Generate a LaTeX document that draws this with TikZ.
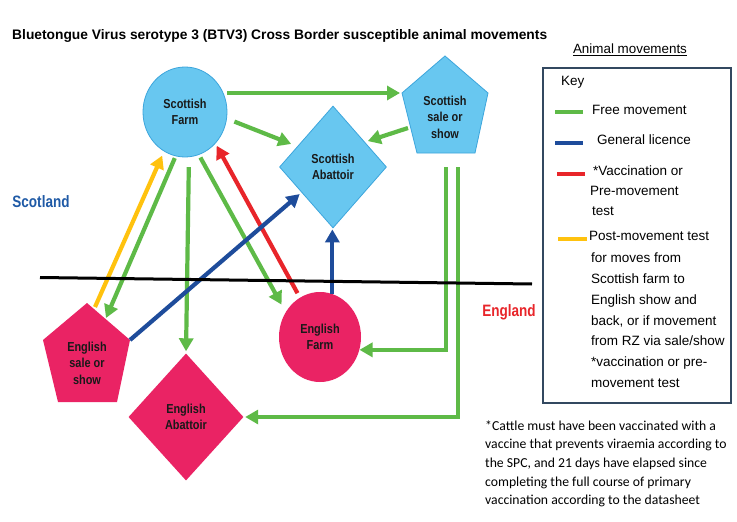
\documentclass[tikz,border=0pt]{standalone}
\usepackage{fontspec}
\setmainfont{Liberation Sans}
\newfontfamily\carlito{Carlito}
\newfontfamily\condsans[FakeStretch=0.84]{Liberation Sans}
\newfontfamily\regsans[FakeStretch=0.82]{Liberation Sans}
\usetikzlibrary{shapes.geometric,arrows.meta}
\definecolor{fgreen}{RGB}{94,186,71}
\definecolor{fblue}{RGB}{30,76,155}
\definecolor{fred}{RGB}{232,37,42}
\definecolor{fyellow}{RGB}{255,194,14}
\definecolor{scotfill}{RGB}{104,199,240}
\definecolor{scotedge}{RGB}{60,165,220}
\definecolor{engfill}{RGB}{234,35,100}
\definecolor{boxc}{RGB}{50,72,96}
\definecolor{scotlabel}{RGB}{31,90,166}
\begin{document}
\begin{tikzpicture}[x=1pt,y=-1pt,
  conn/.style={line width=4.2pt,-{Triangle[length=13pt,width=14pt]}},
  gline/.style={conn,draw=fgreen},
  bline/.style={conn,draw=fblue},
  rline/.style={conn,draw=fred},
  yline/.style={conn,draw=fyellow},
  shapetext/.style={align=center,inner sep=0pt,text=black!90,font=\condsans\bfseries\fontsize{13}{16.5}\selectfont},
  scot/.style={shapetext,fill=scotfill,draw=scotedge,line width=0.8pt},
  eng/.style={shapetext,fill=engfill},
  keytext/.style={anchor=mid west,inner sep=0pt,font=\fontsize{13.5}{16}\selectfont},
  keyline/.style={line width=4pt},
  foot/.style={anchor=mid west,inner sep=0pt,font=\carlito\fontsize{13.7}{16}\selectfont},
  region/.style={inner sep=0pt,font=\regsans\bfseries\fontsize{16.5}{18}\selectfont}]
\useasboundingbox (0,0) rectangle (737,522);
\fill[white] (0,0) rectangle (737,522);

% title
\node[anchor=west,inner sep=0pt,font=\bfseries\fontsize{13.8}{16}\selectfont] (title) at (12,36)
  {Bluetongue Virus serotype 3 (BTV3) Cross Border susceptible animal movements};

% region labels
\node[region,text=scotlabel] (scotland) at (41,202) {Scotland};
\node[region,text=fred] (england) at (509,312) {England};

% Scottish shapes
\node[scot,ellipse,minimum width=84pt,minimum height=90pt] (sf) at (185,112) {Scottish\\Farm};
\node[scot,diamond,minimum width=107pt,minimum height=122pt] (sa) at (333,167) {Scottish\\Abattoir};
\filldraw[fill=scotfill,draw=scotedge,line width=0.8pt] (445,56) -- (488,93) -- (475,153) -- (417,153) -- (402,93) -- cycle;
\node[shapetext] (ss) at (445,117) {Scottish\\sale or\\show};
\coordinate (ssW) at (402,93);
\coordinate (ssL) at (408,128);
\coordinate (ssD1) at (446,167);
\coordinate (ssD2) at (458,167);

% English shapes
\node[eng,ellipse,minimum width=82pt,minimum height=90pt] (ef) at (320,337) {English\\Farm};
\node[eng,diamond,minimum width=115pt,minimum height=127pt] (ea) at (186,417) {English\\Abattoir};
\fill[engfill] (87,303) -- (130,340) -- (117,402) -- (58,402) -- (43,340) -- cycle;
\node[shapetext] (es) at (87,363) {English\\sale or\\show};
\coordinate (esT) at (106,318);
\coordinate (esY) at (95,307);
\coordinate (esE) at (130,340);

% connectors
\draw[gline,shorten >=2pt] (sf.east |- ssW) -- (ssW);
\draw[gline,shorten <=8pt,shorten >=6.5pt] (sf.-9) -- (sa.150);
\draw[gline,shorten >=3pt] (ssL) -- (sa.38);
\draw[gline,shorten <=3pt,shorten >=8.5pt] (sf.-72) -- (ef.144);
\draw[gline,shorten <=10pt,shorten >=2pt] (sf.-85) -- (ea.north);
\draw[gline,shorten <=2pt] (sf.-102) -- (esT);
\draw[yline,shorten >=4.5pt] (esY) -- (sf.-118);
\draw[rline,shorten <=5pt,shorten >=2.5pt] (ef.117) -- (sf.-46);
\draw[bline,shorten >=2.4pt] (esE) -- (sa.-141);
\draw[bline,shorten >=1pt] (ef.74) -- (ef.74 |- sa.south);
\draw[gline] (ssD1) |- (ef.-18);
\draw[gline,shorten >=1.5pt] (ssD2) |- (ea.east);

% border
\coordinate (borderW) at (40,277.5);
\coordinate (borderE) at (532,284);
\draw[line width=3pt,black] (borderW) -- (borderE);

% legend
\node[inner sep=0pt,font=\fontsize{13.4}{15}\selectfont] (am) at (630,50) {\underline{Animal movements}};
\node[draw=boxc,line width=1.5pt,minimum width=188pt,minimum height=335pt,anchor=north west,inner sep=0pt] (key) at (542,67) {};
\node[keytext] (keyt) at (561,83) {Key};
\draw[keyline,fgreen] (555,112) -- (583,112);
\draw[keyline,fblue] (555,143) -- (583,143);
\draw[keyline,fred] (557,174) -- (585,174);
\draw[keyline,fyellow] (558,239) -- (587,239);
\node[keytext] (k1) at (592,112) {Free movement};
\node[keytext] (k2) at (597,142) {General licence};
\node[keytext] (k3a) at (593,173) {*Vaccination or};
\node[keytext] (k3b) at (590,193) {Pre-movement};
\node[keytext] (k3c) at (592,213) {test};
\node[keytext] (k4a) at (589,238) {Post-movement test};
\node[keytext] (k4b) at (591,260) {for moves from};
\node[keytext] (k4c) at (591,281) {Scottish farm to};
\node[keytext] (k4d) at (591,302) {English show and};
\node[keytext] (k4e) at (591,323) {back, or if movement};
\node[keytext] (k4f) at (591,343) {from RZ via sale/show};
\node[keytext] (k4g) at (591,364) {*vaccination or pre-};
\node[keytext] (k4h) at (591,385) {movement test};

% footnote
\node[foot] (f1) at (485,428) {*Cattle must have been vaccinated with a};
\node[foot] (f2) at (485,446) {vaccine that prevents viraemia according to};
\node[foot] (f3) at (485,465) {the SPC, and 21 days have elapsed since};
\node[foot] (f4) at (485,484) {completing the full course of primary};
\node[foot] (f5) at (485,502) {vaccination according to the datasheet};
\end{tikzpicture}
\end{document}
